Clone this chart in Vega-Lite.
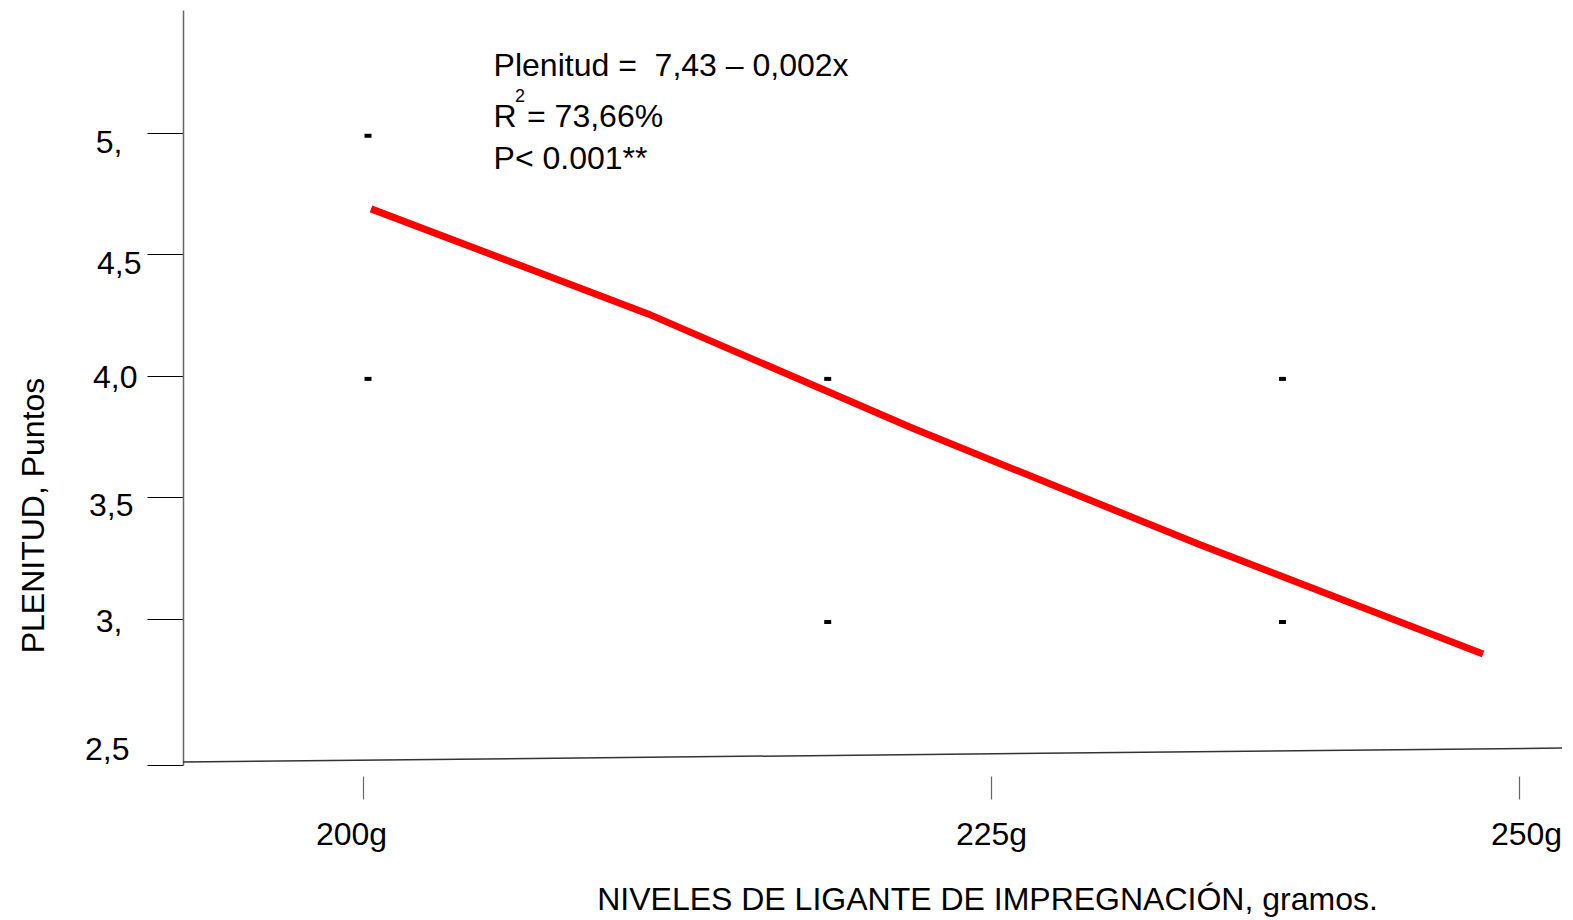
{
  "$schema": "https://vega.github.io/schema/vega-lite/v6.json",
  "width": 1379,
  "height": 755,
  "autosize": {"type": "none"},
  "padding": {"left": 183, "top": 10, "right": 11, "bottom": 155},
  "background": "white",
  "config": {
    "view": {"stroke": null},
    "font": "Liberation Sans",
    "axis": {"grid": false}
  },
  "datasets": {
    "ajuste": [
      {"nivel": 200.32, "plenitud": 4.687},
      {"nivel": 211.35, "plenitud": 4.255},
      {"nivel": 221.86, "plenitud": 3.786},
      {"nivel": 234.9, "plenitud": 3.305},
      {"nivel": 248.3, "plenitud": 2.88}
    ],
    "observado": [
      {"nivel": 200.2, "plenitud": 5},
      {"nivel": 200.2, "plenitud": 4},
      {"nivel": 218.5, "plenitud": 4},
      {"nivel": 218.5, "plenitud": 3},
      {"nivel": 238.8, "plenitud": 4},
      {"nivel": 238.8, "plenitud": 3}
    ]
  },
  "layer": [
    {
      "data": {"name": "observado"},
      "mark": {"type": "tick", "orient": "horizontal", "size": 7, "thickness": 4, "color": "black", "opacity": 1, "yOffset": 3},
      "encoding": {
        "x": {
          "field": "nivel",
          "type": "quantitative",
          "scale": {"domain": [192.83, 200, 225, 250, 252.04], "range": [0, 180, 808, 1336, 1379], "nice": false, "zero": false},
          "axis": {
            "values": [200, 225, 250],
            "labelExpr": "datum.value + 'g'",
            "domain": false,
            "offset": 11,
            "tickSize": 23,
            "tickColor": "#666666",
            "tickWidth": 1.2,
            "labelPadding": 20,
            "labelFontSize": 32,
            "labelColor": "black",
            "labelFont": "Liberation Sans",
            "labelFontWeight": "normal",
            "labelOffset": {"condition": [{"test": "datum.value == 200", "value": -12}, {"test": "datum.value == 250", "value": 7}], "value": 0},
            "title": "NIVELES DE LIGANTE DE IMPREGNACIÓN, gramos.",
            "titleFontSize": 32,
            "titleFontWeight": "normal",
            "titleColor": "black",
            "titleFont": "Liberation Sans",
            "titleX": 804,
            "titleY": 133,
            "titleAlign": "center",
            "titleAnchor": null,
            "titleBaseline": "alphabetic"
          }
        },
        "y": {
          "field": "plenitud",
          "type": "quantitative",
          "scale": {"domain": [2.5, 3, 5.505], "range": [755, 609, 0], "nice": false, "zero": false},
          "axis": {
            "values": [2.5, 3, 3.5, 4, 4.5, 5],
            "labelExpr": "datum.value == 5 ? '5,' : datum.value == 4.5 ? '4,5' : datum.value == 4 ? '4,0' : datum.value == 3.5 ? '3,5' : datum.value == 3 ? '3,' : '2,5'",
            "domainColor": "#666666",
            "domainWidth": 1.5,
            "tickSize": 36,
            "tickColor": "black",
            "tickWidth": 1.2,
            "labelPadding": {"condition": [{"test": "datum.value == 5", "value": 25}, {"test": "datum.value == 4", "value": 10}, {"test": "datum.value == 3.5", "value": 14}, {"test": "datum.value == 3", "value": 25}, {"test": "datum.value == 2.5", "value": 18}], "value": 6},
            "labelOffset": {"condition": [{"test": "datum.value == 5", "value": 10}, {"test": "datum.value == 4.5", "value": 9}, {"test": "datum.value == 4", "value": 2}, {"test": "datum.value == 3.5", "value": 8}, {"test": "datum.value == 3", "value": 2}, {"test": "datum.value == 2.5", "value": -16}], "value": 0},
            "labelFontSize": 32,
            "labelColor": "black",
            "labelFont": "Liberation Sans",
            "labelAlign": "right",
            "labelBaseline": "middle",
            "title": "PLENITUD, Puntos",
            "titleFontSize": 32,
            "titleFontWeight": "normal",
            "titleColor": "black",
            "titleFont": "Liberation Sans",
            "titleAngle": 270,
            "titleX": -140,
            "titleY": 505,
            "titleAlign": "center",
            "titleAnchor": null,
            "titleBaseline": "alphabetic"
          }
        }
      }
    },
    {
      "data": {"values": [{}]},
      "mark": {"type": "rule", "color": "#333333", "strokeWidth": 1.5},
      "encoding": {
        "x": {"datum": 192.83, "type": "quantitative"},
        "x2": {"datum": 252.04},
        "y": {"datum": 2.5103, "type": "quantitative"},
        "y2": {"datum": 2.558}
      }
    },
    {
      "data": {"name": "ajuste"},
      "mark": {"type": "line", "color": "#ff0000", "strokeWidth": 7, "strokeCap": "butt", "strokeJoin": "miter"},
      "encoding": {
        "x": {"field": "nivel", "type": "quantitative"},
        "y": {"field": "plenitud", "type": "quantitative"}
      }
    },
    {
      "data": {"values": [{}]},
      "mark": {"type": "text", "text": "Plenitud = \u00a07,43 – 0,002x", "align": "left", "baseline": "alphabetic", "fontSize": 32, "color": "black"},
      "encoding": {"x": {"datum": 205.2, "type": "quantitative"}, "y": {"datum": 5.2335, "type": "quantitative"}}
    },
    {
      "data": {"values": [{}]},
      "mark": {"type": "text", "text": "R", "align": "left", "baseline": "alphabetic", "fontSize": 32, "color": "black"},
      "encoding": {"x": {"datum": 205.2, "type": "quantitative"}, "y": {"datum": 5.0237, "type": "quantitative"}}
    },
    {
      "data": {"values": [{}]},
      "mark": {"type": "text", "text": "2", "align": "left", "baseline": "alphabetic", "fontSize": 18, "color": "black"},
      "encoding": {"x": {"datum": 206.05, "type": "quantitative"}, "y": {"datum": 5.125, "type": "quantitative"}}
    },
    {
      "data": {"values": [{}]},
      "mark": {"type": "text", "text": "= 73,66%", "align": "left", "baseline": "alphabetic", "fontSize": 32, "color": "black"},
      "encoding": {"x": {"datum": 206.53, "type": "quantitative"}, "y": {"datum": 5.0237, "type": "quantitative"}}
    },
    {
      "data": {"values": [{}]},
      "mark": {"type": "text", "text": "P< 0.001**", "align": "left", "baseline": "alphabetic", "fontSize": 32, "color": "black"},
      "encoding": {"x": {"datum": 205.2, "type": "quantitative"}, "y": {"datum": 4.851, "type": "quantitative"}}
    }
  ]
}
